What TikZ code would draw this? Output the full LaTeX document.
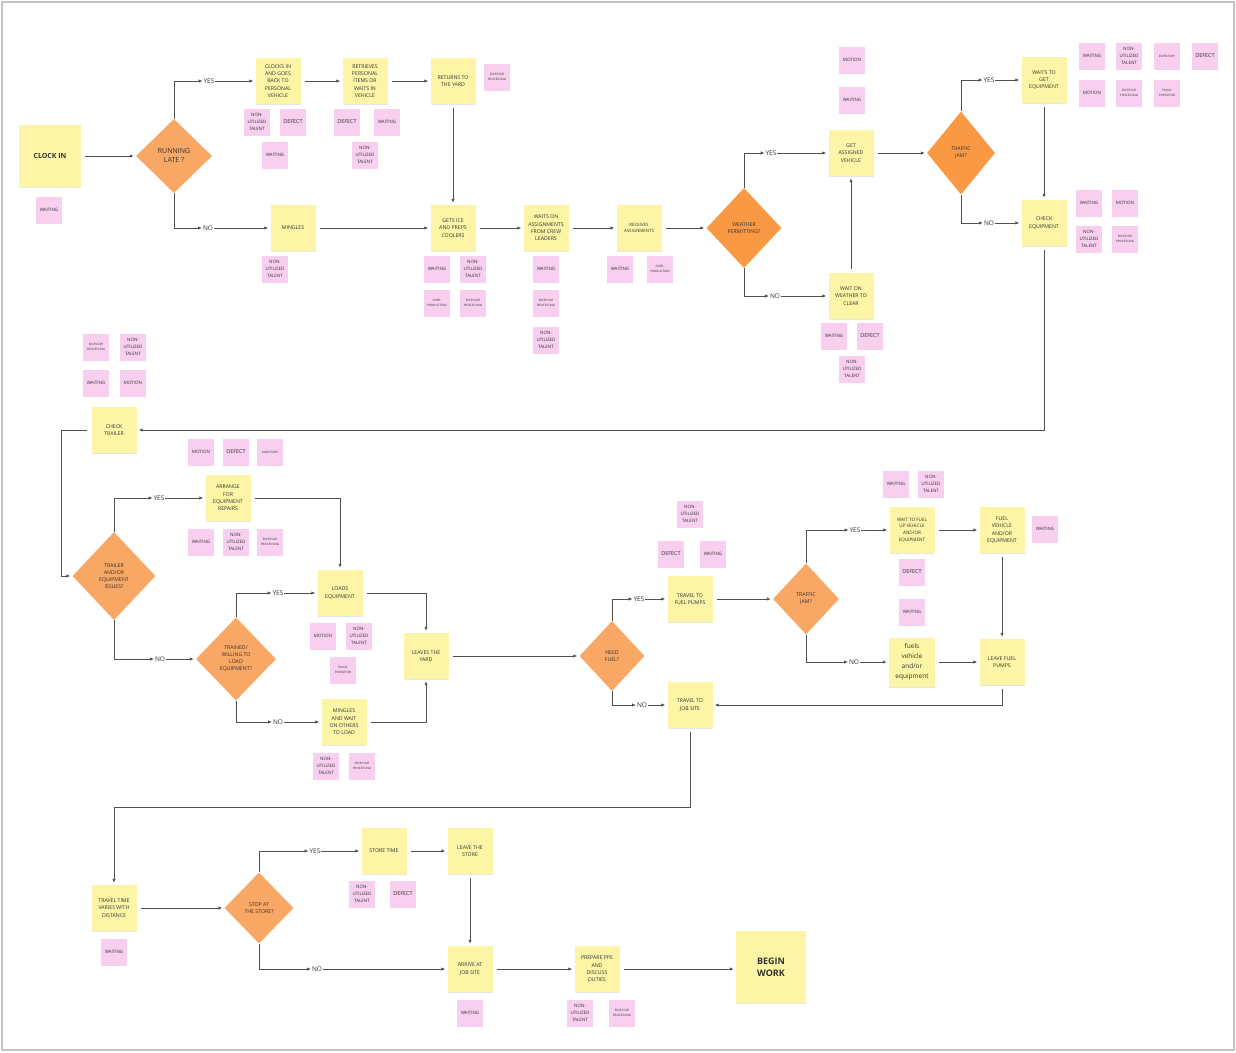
\documentclass[tikz,border=0pt]{standalone}
\usepackage{fontspec}
\setmainfont{Open Sans}
\usetikzlibrary{arrows.meta, positioning, shapes.geometric, shadows}
\definecolor{stickyyellow}{HTML}{FCF5A5}
\definecolor{stickypink}{HTML}{F8CFEE}
\definecolor{decorange}{HTML}{F9A765}
\definecolor{decdeep}{HTML}{FA9944}
\definecolor{inkgray}{HTML}{333333}
\definecolor{wiregray}{HTML}{505050}
\definecolor{framegray}{HTML}{C4C4C4}

\begin{document}
\begin{tikzpicture}[x=1pt, y=-1pt,
    task/.style={rectangle, fill=stickyyellow, minimum width=45pt, minimum height=46pt,
      inner sep=1pt, align=center, text=inkgray, font=\fontsize{5.2}{7.4}\selectfont,
      drop shadow={shadow xshift=0pt, shadow yshift=-1.2pt, opacity=0.2}},
    bigtask/.style={task, minimum width=62pt, minimum height=62pt, font=\fontsize{7}{9}\selectfont\bfseries},
    waste/.style={rectangle, fill=stickypink, minimum width=26pt, minimum height=27pt,
      inner sep=0.5pt, align=center, text=inkgray, font=\fontsize{4.5}{6.8}\selectfont,
      drop shadow={shadow xshift=0pt, shadow yshift=-0.8pt, opacity=0.12}},
    tinywaste/.style={waste, font=\fontsize{3}{4.2}\selectfont},
    bigwaste/.style={waste, font=\fontsize{5.5}{6.5}\selectfont},
    decision/.style={diamond, fill=decorange, inner sep=0pt, align=center, text=inkgray,
      font=\fontsize{5.2}{7}\selectfont},
    yn/.style={inner sep=0.8pt, text=inkgray, font=\fontsize{6.5}{7}\selectfont},
    flow/.style={draw=wiregray, line width=0.8pt, shorten >=2pt, -{Latex[length=4pt, width=3.4pt]}},
    gap/.style={shorten <=4pt}
  ]
  \useasboundingbox (0,0) rectangle (1236,1052);
  \draw[framegray, line width=1.5pt] (2,2) rectangle (1234,1050);

  % first row
  \node[bigtask] (clockin) at (50,156) {CLOCK IN};
  \node[waste] (clockinW) at (49,210) {WAITING};
  \node[decision, minimum width=76pt, minimum height=74pt, font=\fontsize{7}{9}\selectfont] (late) at (174,156) {RUNNING\\LATE ?};
  \node[yn] (yes1) at (209,81) {YES};
  \node[yn] (no1) at (208,228) {NO};

  \node[task] (clocksin) at (278,81) {CLOCKS IN\\AND GOES\\BACK TO\\PERSONAL\\VEHICLE};
  \node[waste] (clocksinN) at (257,122) {NON-\\UTILIZED\\TALENT};
  \node[bigwaste] (clocksinD) at (293,122) {DEFECT};
  \node[waste] (clocksinW) at (275,155) {WAITING};

  \node[task] (retrieves) at (365,81) {RETRIEVES\\PERSONAL\\ITEMS OR\\WAITS IN\\VEHICLE};
  \node[bigwaste] (retrievesD) at (347,122) {DEFECT};
  \node[waste] (retrievesW) at (387,122) {WAITING};
  \node[waste] (retrievesN) at (365,155) {NON-\\UTILIZED\\TALENT};

  \node[task] (returns) at (453,81) {RETURNS TO\\THE YARD};
  \node[tinywaste] (returnsE) at (497,77) {EXCESSIVE\\PROCESSING};

  \node[task] (mingles) at (293,228) {MINGLES};
  \node[waste] (minglesN) at (275,269) {NON-\\UTILIZED\\TALENT};

  \node[task] (getsice) at (453,228) {GETS ICE\\AND PREPS\\COOLERS};
  \node[waste] (getsiceW) at (437,269) {WAITING};
  \node[waste] (getsiceN) at (473,269) {NON-\\UTILIZED\\TALENT};
  \node[tinywaste] (getsiceO) at (437,303) {OVER-\\PRODUCTION};
  \node[tinywaste] (getsiceE) at (473,303) {EXCESSIVE\\PROCESSING};

  \node[task] (waitson) at (546,228) {WAITS ON\\ASSIGNMENTS\\FROM CREW\\LEADERS};
  \node[waste] (waitsonW) at (546,269) {WAITING};
  \node[tinywaste] (waitsonE) at (546,303) {EXCESSIVE\\PROCESSING};
  \node[waste] (waitsonN) at (546,340) {NON-\\UTILIZED\\TALENT};

  \node[task, font=\fontsize{4.4}{6.5}\selectfont] (receives) at (639,228) {RECEIVES\\ASSIGNMENTS};
  \node[waste] (receivesW) at (620,269) {WAITING};
  \node[tinywaste] (receivesO) at (660,269) {OVER-\\PRODUCTION};

  \node[decision, fill=decdeep, minimum width=75pt, minimum height=80pt] (weather) at (744,228) {WEATHER\\PERMITTING?};
  \node[yn] (yes2) at (771,153) {YES};
  \node[yn] (no2) at (775,296) {NO};

  \node[task] (getveh) at (851,153) {GET\\ASSIGNED\\VEHICLE};
  \node[waste] (getvehM) at (852,60) {MOTION};
  \node[waste] (getvehW) at (852,100) {WAITING};

  \node[task] (waitwx) at (851,296) {WAIT ON\\WEATHER TO\\CLEAR};
  \node[waste] (waitwxW) at (834,336) {WAITING};
  \node[bigwaste] (waitwxD) at (870,336) {DEFECT};
  \node[waste] (waitwxN) at (852,369) {NON-\\UTILIZED\\TALENT};

  \node[decision, fill=decdeep, minimum width=68pt, minimum height=83pt] (jam1) at (961,153) {TRAFFIC\\JAM?};
  \node[yn] (yes8) at (989,80) {YES};
  \node[yn] (no8) at (989,223) {NO};

  \node[task] (waitsget) at (1044,80) {WAITS TO\\GET\\EQUIPMENT};
  \node[waste] (waitsgetW) at (1092,56) {WAITING};
  \node[waste] (waitsgetN) at (1129,56) {NON-\\UTILIZED\\TALENT};
  \node[tinywaste] (waitsgetI) at (1167,56) {INVENTORY};
  \node[bigwaste] (waitsgetD) at (1205,56) {DEFECT};
  \node[waste] (waitsgetM) at (1092,93) {MOTION};
  \node[tinywaste] (waitsgetE) at (1129,93) {EXCESSIVE\\PROCESSING};
  \node[tinywaste] (waitsgetT) at (1167,93) {TRANS-\\PORTATION};

  \node[task] (checkeq) at (1044,223) {CHECK\\EQUIPMENT};
  \node[waste] (checkeqW) at (1089,203) {WAITING};
  \node[waste] (checkeqM) at (1125,203) {MOTION};
  \node[waste] (checkeqN) at (1089,239) {NON-\\UTILIZED\\TALENT};
  \node[tinywaste] (checkeqE) at (1125,239) {EXCESSIVE\\PROCESSING};

  % second row
  \node[tinywaste] (checktrE) at (96,347) {EXCESSIVE\\PROCESSING};
  \node[waste] (checktrN) at (133,347) {NON-\\UTILIZED\\TALENT};
  \node[waste] (checktrW) at (96,383) {WAITING};
  \node[waste] (checktrM) at (133,383) {MOTION};
  \node[task] (checktr) at (114,430) {CHECK\\TRAILER};

  \node[decision, minimum width=83pt, minimum height=88pt] (issues) at (114,576) {TRAILER\\AND/OR\\EQUIPMENT\\ISSUES?};
  \node[yn] (yes3) at (159,498) {YES};
  \node[yn] (no3) at (160,659) {NO};

  \node[task] (arrange) at (228,498) {ARRANGE\\FOR\\EQUIPMENT\\REPAIRS};
  \node[waste] (arrangeM) at (201,452) {MOTION};
  \node[bigwaste] (arrangeD) at (236,452) {DEFECT};
  \node[tinywaste] (arrangeI) at (270,452) {INVENTORY};
  \node[waste] (arrangeW) at (201,542) {WAITING};
  \node[waste] (arrangeN) at (236,542) {NON-\\UTILIZED\\TALENT};
  \node[tinywaste] (arrangeE) at (270,542) {EXCESSIVE\\PROCESSING};

  \node[decision, minimum width=80pt, minimum height=83pt] (trained) at (236,659) {TRAINED/\\WILLING TO\\LOAD\\EQUIPMENT?};
  \node[yn] (yes4) at (278,593) {YES};
  \node[yn] (no4) at (278,722) {NO};

  \node[task] (loads) at (340,593) {LOADS\\EQUIPMENT};
  \node[waste] (loadsM) at (323,636) {MOTION};
  \node[waste] (loadsN) at (359,636) {NON-\\UTILIZED\\TALENT};
  \node[tinywaste] (loadsT) at (343,670) {TRANS-\\PORTATION};

  \node[task] (mingles2) at (344,722) {MINGLES\\AND WAIT\\ON OTHERS\\TO LOAD};
  \node[waste] (mingles2N) at (326,766) {NON-\\UTILIZED\\TALENT};
  \node[tinywaste] (mingles2E) at (362,766) {EXCESSIVE\\PROCESSING};

  \node[task] (leaves) at (426,656) {LEAVES THE\\YARD};

  \node[decision, minimum width=65pt, minimum height=70pt] (fuel) at (612,656) {NEED\\FUEL?};
  \node[yn] (yes5) at (639,599) {YES};
  \node[yn] (no5) at (642,705) {NO};

  \node[task] (pumps) at (690,599) {TRAVEL TO\\FUEL PUMPS};
  \node[waste] (pumpsN) at (690,514) {NON-\\UTILIZED\\TALENT};
  \node[bigwaste] (pumpsD) at (671,554) {DEFECT};
  \node[waste] (pumpsW) at (713,554) {WAITING};

  \node[task] (jobsite) at (690,705) {TRAVEL TO\\JOB SITE};

  \node[decision, minimum width=66pt, minimum height=71pt] (jam2) at (806,599) {TRAFFIC\\JAM?};
  \node[yn] (yes6) at (855,530) {YES};
  \node[yn] (no6) at (854,662) {NO};

  \node[task, font=\fontsize{4.6}{6.8}\selectfont] (waitfuel) at (912,530) {WAIT TO FUEL\\UP VEHICLE\\AND/OR\\EQUIPMENT};
  \node[waste] (waitfuelW) at (896,484) {WAITING};
  \node[waste] (waitfuelN) at (931,484) {NON-\\UTILIZED\\TALENT};
  \node[bigwaste] (waitfuelD) at (912,572) {DEFECT};
  \node[waste] (waitfuelW2) at (912,612) {WAITING};

  \node[task] (fuelveh) at (1002,530) {FUEL\\VEHICLE\\AND/OR\\EQUIPMENT};
  \node[waste] (fuelvehW) at (1045,529) {WAITING};

  \node[task, minimum width=46pt, minimum height=49pt, font=\fontsize{6.5}{10}\selectfont] (fuels) at (912,662) {fuels\\vehicle\\and/or\\equipment};
  \node[task] (leavepumps) at (1002,662) {LEAVE FUEL\\PUMPS};

  % third row
  \coordinate (bend) at (114,807);
  \node[task] (traveltime) at (114,908) {TRAVEL TIME\\VARIES WITH\\DISTANCE};
  \node[waste] (traveltimeW) at (114,952) {WAITING};

  \node[decision, minimum width=69pt, minimum height=71pt] (store) at (259,908) {STOP AT\\THE STORE?};
  \node[yn] (yes7) at (315,851) {YES};
  \node[yn] (no7) at (317,969) {NO};

  \node[task] (storetime) at (384,851) {STORE TIME};
  \node[waste] (storetimeN) at (362,894) {NON-\\UTILIZED\\TALENT};
  \node[bigwaste] (storetimeD) at (403,894) {DEFECT};

  \node[task] (leavestore) at (470,851) {LEAVE THE\\STORE};
  \node[task] (arrive) at (470,969) {ARRIVE AT\\JOB SITE};
  \node[waste] (arriveW) at (470,1013) {WAITING};

  \node[task] (prepare) at (597,969) {PREPARE PPE\\AND\\DISCUSS\\DUTIES};
  \node[waste] (prepareN) at (580,1013) {NON-\\UTILIZED\\TALENT};
  \node[tinywaste] (prepareE) at (622,1013) {EXCESSIVE\\PROCESSING};

  \node[bigtask, minimum width=70pt, minimum height=72pt, font=\fontsize{9}{12}\selectfont\bfseries] (begin) at (771,967) {BEGIN\\WORK};

  % connectors
  \draw[flow, gap] (clockin.east) -- (late.west);
  \draw[flow, shorten >=0pt] (late.north) |- (yes1.west);
  \draw[flow] (yes1.east) -- (clocksin.west);
  \draw[flow, gap] (clocksin.east) -- (retrieves.west);
  \draw[flow, gap] (retrieves.east) -- (returns.west);
  \draw[flow, gap] (returns.south) -- (getsice.north);
  \draw[flow, shorten >=0pt] (late.south) |- (no1.west);
  \draw[flow] (no1.east) -- (mingles.west);
  \draw[flow, gap] (mingles.east) -- (getsice.west);
  \draw[flow, gap] (getsice.east) -- (waitson.west);
  \draw[flow, gap] (waitson.east) -- (receives.west);
  \draw[flow, gap] (receives.east) -- (weather.west);
  \draw[flow, shorten >=0pt] (weather.north) |- (yes2.west);
  \draw[flow] (yes2.east) -- (getveh.west);
  \draw[flow, shorten >=0pt] (weather.south) |- (no2.west);
  \draw[flow] (no2.east) -- (waitwx.west);
  \draw[flow, gap] (waitwx.north) -- (getveh.south);
  \draw[flow, gap] (getveh.east) -- (jam1.west);
  \draw[flow, shorten >=0pt] (jam1.north) |- (yes8.west);
  \draw[flow] (yes8.east) -- (waitsget.west);
  \draw[flow, shorten >=0pt] (jam1.south) |- (no8.west);
  \draw[flow] (no8.east) -- (checkeq.west);
  \draw[flow, gap] (waitsget.south) -- (checkeq.north);
  \draw[flow, gap] (checkeq.south) |- (checktr.east);

  \draw[flow, gap] (checktr.west) -- ++(-30,0) |- (issues.west);
  \draw[flow, shorten >=0pt] (issues.north) |- (yes3.west);
  \draw[flow] (yes3.east) -- (arrange.west);
  \draw[flow, gap] (arrange.east) -| (loads.north);
  \draw[flow, shorten >=0pt] (issues.south) |- (no3.west);
  \draw[flow] (no3.east) -- (trained.west);
  \draw[flow, shorten >=0pt] (trained.north) |- (yes4.west);
  \draw[flow] (yes4.east) -- (loads.west);
  \draw[flow, shorten >=0pt] (trained.south) |- (no4.west);
  \draw[flow] (no4.east) -- (mingles2.west);
  \draw[flow, gap] (loads.east) -| (leaves.north);
  \draw[flow, gap] (mingles2.east) -| (leaves.south);
  \draw[flow, gap] (leaves.east) -- (fuel.west);
  \draw[flow, shorten >=0pt] (fuel.north) |- (yes5.west);
  \draw[flow] (yes5.east) -- (pumps.west);
  \draw[flow, shorten >=0pt] (fuel.south) |- (no5.west);
  \draw[flow] (no5.east) -- (jobsite.west);
  \draw[flow, gap] (pumps.east) -- (jam2.west);
  \draw[flow, shorten >=0pt] (jam2.north) |- (yes6.west);
  \draw[flow] (yes6.east) -- (waitfuel.west);
  \draw[flow, shorten >=0pt] (jam2.south) |- (no6.west);
  \draw[flow] (no6.east) -- (fuels.west);
  \draw[flow, gap] (waitfuel.east) -- (fuelveh.west);
  \draw[flow, gap] (fuelveh.south) -- (leavepumps.north);
  \draw[flow, gap] (fuels.east) -- (leavepumps.west);
  \draw[flow, gap] (leavepumps.south) |- (jobsite.east);

  \draw[flow, gap] (jobsite.south) |- (bend) -- (traveltime.north);
  \draw[flow, gap] (traveltime.east) -- (store.west);
  \draw[flow, shorten >=0pt] (store.north) |- (yes7.west);
  \draw[flow] (yes7.east) -- (storetime.west);
  \draw[flow, gap] (storetime.east) -- (leavestore.west);
  \draw[flow, gap] (leavestore.south) -- (arrive.north);
  \draw[flow, shorten >=0pt] (store.south) |- (no7.west);
  \draw[flow] (no7.east) -- (arrive.west);
  \draw[flow, gap] (arrive.east) -- (prepare.west);
  \draw[flow, gap] (prepare.east) -- (prepare.east -| begin.west);
\end{tikzpicture}
\end{document}
